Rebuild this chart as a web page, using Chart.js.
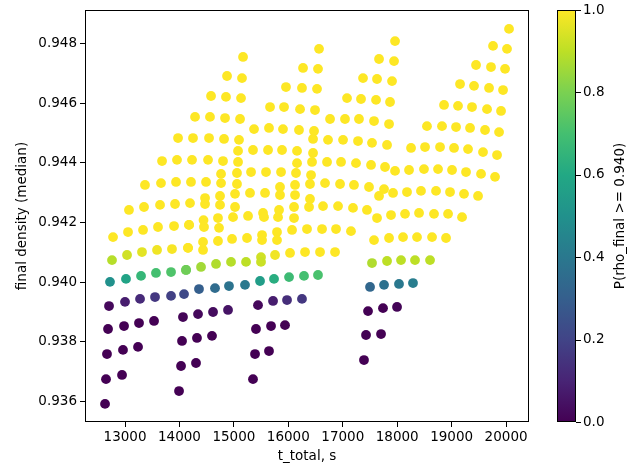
<!DOCTYPE html>
<html>
<head>
<meta charset="utf-8">
<script src="https://cdn.jsdelivr.net/npm/chart.js@4.4.0/dist/chart.umd.min.js"></script>
<style>
  html, body { margin: 0; padding: 0; background: #fff; }
</style>
</head>
<body>
<canvas id="densityChart" width="629" height="467"></canvas>
<script>
// Four sweep blocks, each listed column by column (8 points per column)
const tA = [12633, 12651, 12669, 12688, 12706, 12724, 12761, 12780,
  12945, 12963, 12982, 13000, 13018, 13037, 13055, 13073,
  13239, 13257, 13276, 13294, 13312, 13331, 13349, 13367,
  13533, 13551, 13569, 13588, 13606, 13643, 13661, 13680,
  13845, 13845, 13863, 13900, 13919, 13937, 13955, 13974,
  14121, 14157, 14176, 14194, 14212, 14231, 14249, 14286,
  14433, 14451, 14470, 14488, 14525, 14543, 14561, 14580,
  14727, 14745, 14764, 14800, 14819, 14837, 14855, 14874,
  15021, 15057, 15076, 15094, 15113, 15131, 15149, 15168];
const rhoA = [0.93592, 0.93675, 0.93759, 0.93843, 0.93920, 0.94001, 0.94074, 0.94151,
  0.93689, 0.93773, 0.93853, 0.93934, 0.94011, 0.94091, 0.94168, 0.94242,
  0.93783, 0.93863, 0.93944, 0.94021, 0.94101, 0.94175, 0.94252, 0.94326,
  0.93870, 0.93950, 0.94031, 0.94108, 0.94185, 0.94259, 0.94332, 0.94406,
  0.93954, 0.94034, 0.94111, 0.94188, 0.94262, 0.94336, 0.94410, 0.94483,
  0.94041, 0.94115, 0.94192, 0.94265, 0.94336, 0.94410, 0.94483, 0.94554,
  0.94108, 0.94185, 0.94262, 0.94336, 0.94410, 0.94483, 0.94554, 0.94624,
  0.94182, 0.94259, 0.94332, 0.94406, 0.94480, 0.94550, 0.94621, 0.94691,
  0.94252, 0.94329, 0.94403, 0.94477, 0.94547, 0.94617, 0.94684, 0.94755];
const pA = [0, 0, 0, 0, 0.02, 0.5, 0.89, 1,
  0, 0, 0, 0.08, 0.58, 0.93, 1, 1,
  0, 0, 0.12, 0.66, 0.96, 1, 1, 1,
  0, 0.16, 0.7, 0.98, 1, 1, 1, 1,
  0.19, 0.72, 0.99, 1, 1, 1, 1, 1,
  0.77, 1, 1, 1, 1, 1, 1, 1,
  1, 1, 1, 1, 1, 1, 1, 1,
  1, 1, 1, 1, 1, 1, 1, 1,
  1, 1, 1, 1, 1, 1, 1, 1];

const tB = [13992, 14029, 14047, 14065, 14084, 14121, 14157, 14176,
  14304, 14322, 14341, 14359, 14396, 14433, 14442, 14470,
  14598, 14617, 14653, 14672, 14708, 14708, 14745, 14764,
  14892, 14910, 14947, 14966, 14984, 15021, 15057, 15076,
  15204, 15223, 15241, 15260, 15296, 15315, 15351, 15370,
  15498, 15517, 15553, 15572, 15590, 15627, 15645, 15664,
  15792, 15811, 15847, 15866, 15884, 15902, 15921, 15957,
  16105, 16123, 16141, 16160, 16196, 16215, 16251, 16270,
  16398, 16417, 16454, 16472, 16490, 16527, 16545, 16564];
const rhoB = [0.93635, 0.93719, 0.93803, 0.93883, 0.93960, 0.94041, 0.94115, 0.94192,
  0.93729, 0.93813, 0.93893, 0.93977, 0.94051, 0.94135, 0.94208, 0.94282,
  0.93820, 0.93900, 0.93980, 0.94061, 0.94138, 0.94215, 0.94289, 0.94363,
  0.93907, 0.93987, 0.94068, 0.94145, 0.94218, 0.94296, 0.94366, 0.94440,
  0.93991, 0.94068, 0.94148, 0.94222, 0.94299, 0.94369, 0.94443, 0.94513,
  0.94068, 0.94141, 0.94218, 0.94299, 0.94369, 0.94443, 0.94517, 0.94587,
  0.94141, 0.94218, 0.94292, 0.94369, 0.94443, 0.94513, 0.94587, 0.94654,
  0.94215, 0.94292, 0.94366, 0.94440, 0.94510, 0.94580, 0.94651, 0.94718,
  0.94279, 0.94359, 0.94433, 0.94507, 0.94577, 0.94648, 0.94715, 0.94782];
const pB = [0, 0, 0, 0.01, 0.22, 0.78, 1, 1,
  0, 0, 0.02, 0.3, 0.86, 1, 1, 1,
  0, 0.03, 0.35, 0.88, 1, 1, 1, 1,
  0.05, 0.38, 0.89, 1, 1, 1, 1, 1,
  0.4, 0.9, 1, 1, 1, 1, 1, 1,
  0.92, 1, 1, 1, 1, 1, 1, 1,
  1, 1, 1, 1, 1, 1, 1, 1,
  1, 1, 1, 1, 1, 1, 1, 1,
  1, 1, 1, 1, 1, 1, 1, 1];

const tC = [15351, 15388, 15406, 15443, 15480, 15498, 15517, 15535,
  15645, 15682, 15719, 15737, 15756, 15792, 15829, 15847,
  15939, 15976, 16013, 16031, 16068, 16105, 16123, 16160,
  16251, 16288, 16307, 16343, 16380, 16398, 16435, 16454,
  16545, 16582, 16619, 16637, 16674, 16711, 16729, 16766,
  16858, 16876, 16913, 16950, 16968, 17005, 17041, 17078,
  17151, 17188, 17206, 17243, 17280, 17298, 17335, 17372,
  17445, 17482, 17519, 17537, 17574, 17611, 17629, 17666,
  17758, 17776, 17813, 17850, 17868, 17905, 17942, 17960];
const rhoC = [0.93675, 0.93759, 0.93843, 0.93923, 0.94004, 0.94084, 0.94158, 0.94232,
  0.93769, 0.93853, 0.93937, 0.94011, 0.94091, 0.94168, 0.94242, 0.94319,
  0.93856, 0.93940, 0.94017, 0.94098, 0.94175, 0.94252, 0.94326, 0.94399,
  0.93944, 0.94021, 0.94101, 0.94178, 0.94252, 0.94329, 0.94403, 0.94480,
  0.94024, 0.94101, 0.94178, 0.94255, 0.94332, 0.94403, 0.94477, 0.94547,
  0.94101, 0.94178, 0.94255, 0.94329, 0.94403, 0.94477, 0.94547, 0.94617,
  0.94171, 0.94249, 0.94326, 0.94399, 0.94473, 0.94547, 0.94614, 0.94684,
  0.94242, 0.94319, 0.94393, 0.94467, 0.94540, 0.94611, 0.94681, 0.94748,
  0.94312, 0.94386, 0.94460, 0.94530, 0.94604, 0.94674, 0.94741, 0.94808];
const pC = [0, 0, 0, 0.02, 0.55, 0.93, 1, 1,
  0, 0, 0.08, 0.62, 0.98, 1, 1, 1,
  0, 0.13, 0.68, 1, 1, 1, 1, 1,
  0.16, 0.7, 1, 1, 1, 1, 1, 1,
  0.71, 1, 1, 1, 1, 1, 1, 1,
  1, 1, 1, 1, 1, 1, 1, 1,
  1, 1, 1, 1, 1, 1, 1, 1,
  1, 1, 1, 1, 1, 1, 1, 1,
  1, 1, 1, 1, 1, 1, 1, 1];

const tD = [17390, 17427, 17464, 17501, 17537, 17574, 17629, 17666,
  17703, 17739, 17758, 17813, 17850, 17886, 17923, 17960,
  17997, 18033, 18070, 18107, 18144, 18180, 18217, 18254,
  18290, 18327, 18364, 18401, 18437, 18492, 18511, 18547,
  18603, 18640, 18676, 18713, 18750, 18787, 18823, 18860,
  18897, 18934, 18970, 19007, 19044, 19081, 19117, 19154,
  19191, 19227, 19264, 19301, 19338, 19374, 19411, 19448,
  19485, 19540, 19576, 19613, 19650, 19687, 19723, 19760,
  19797, 19834, 19871, 19907, 19944, 19981, 20017, 20054];
const rhoD = [0.93739, 0.93823, 0.93903, 0.93984, 0.94064, 0.94141, 0.94215, 0.94289,
  0.93826, 0.93913, 0.93991, 0.94071, 0.94148, 0.94225, 0.94299, 0.94373,
  0.93917, 0.93994, 0.94074, 0.94151, 0.94229, 0.94302, 0.94376, 0.94450,
  0.93997, 0.94074, 0.94151, 0.94232, 0.94306, 0.94379, 0.94453, 0.94523,
  0.94074, 0.94151, 0.94229, 0.94306, 0.94379, 0.94453, 0.94523, 0.94594,
  0.94148, 0.94229, 0.94302, 0.94376, 0.94450, 0.94520, 0.94591, 0.94664,
  0.94218, 0.94296, 0.94369, 0.94446, 0.94517, 0.94587, 0.94658, 0.94728,
  0.94289, 0.94363, 0.94436, 0.94510, 0.94580, 0.94651, 0.94721, 0.94792,
  0.94353, 0.94426, 0.94503, 0.94574, 0.94644, 0.94715, 0.94782, 0.94849];
const pD = [0, 0, 0, 0.33, 0.88, 1, 1, 1,
  0, 0, 0.37, 0.9, 1, 1, 1, 1,
  0.01, 0.4, 0.9, 1, 1, 1, 1, 1,
  0.42, 0.9, 1, 1, 1, 1, 1, 1,
  0.9, 1, 1, 1, 1, 1, 1, 1,
  1, 1, 1, 1, 1, 1, 1, 1,
  1, 1, 1, 1, 1, 1, 1, 1,
  1, 1, 1, 1, 1, 1, 1, 1,
  1, 1, 1, 1, 1, 1, 1, 1];

// tick labels
const xTicks = [13000, 14000, 15000, 16000, 17000, 18000, 19000, 20000];
const yTicks = [0.936, 0.938, 0.940, 0.942, 0.944, 0.946, 0.948];
const cTicks = [0, 0.2, 0.4, 0.6, 0.8, 1.0];

// viridis colormap, sampled every 0.1
const viridisStops = ['#440154', '#482475', '#414487', '#355f8d', '#2a788e', '#21918c',
  '#22a884', '#44bf70', '#7ad151', '#bddf26', '#fde725'];

function hexToRgb(h) {
  return [parseInt(h.slice(1, 3), 16), parseInt(h.slice(3, 5), 16), parseInt(h.slice(5, 7), 16)];
}

function viridis(v) {
  const n = viridisStops.length - 1;
  const f = Math.min(Math.max(v, 0), 1) * n;
  const i = Math.min(Math.floor(f), n - 1);
  const a = hexToRgb(viridisStops[i]);
  const b = hexToRgb(viridisStops[i + 1]);
  const w = f - i;
  const c = a.map((x, k) => Math.round(x + (b[k] - x) * w));
  return `rgb(${c[0]}, ${c[1]}, ${c[2]})`;
}

function makeDataset(ts, rhos, ps) {
  return {
    data: ts.map((t, i) => ({ x: t, y: rhos[i] })),
    backgroundColor: ps.map(viridis),
    borderWidth: 0,
    pointRadius: 4.9,
    pointHoverRadius: 4.9
  };
}

// vertical scales should not push the plot area around
function noPadding(s) {
  s.paddingTop = 0;
  s.paddingBottom = 0;
}

// draws the axes frame and the colorbar next to the plot
const frameAndColorbar = {
  id: 'frameAndColorbar',
  afterDraw(chart) {
    const { ctx, chartArea } = chart;
    const c = chart.scales.c;
    ctx.save();
    ctx.strokeStyle = '#000';
    ctx.lineWidth = 1;
    ctx.strokeRect(Math.round(chartArea.left) + 0.5, Math.round(chartArea.top) + 0.5,
      Math.round(chartArea.width) - 1, Math.round(chartArea.height) - 1);

    const barLeft = 557, barRight = 576;
    const grad = ctx.createLinearGradient(0, c.bottom, 0, c.top);
    viridisStops.forEach((col, i) => grad.addColorStop(i / (viridisStops.length - 1), col));
    ctx.fillStyle = grad;
    ctx.fillRect(barLeft, c.top, barRight - barLeft, c.bottom - c.top);
    ctx.strokeRect(barLeft + 0.5, Math.round(c.top) + 0.5, barRight - barLeft - 1, Math.round(c.bottom - c.top) - 1);

    cTicks.forEach(v => {
      const y = Math.round(c.getPixelForValue(v)) + 0.5;
      ctx.beginPath();
      ctx.moveTo(barRight, y);
      ctx.lineTo(barRight + 5, y);
      ctx.stroke();
    });

    ctx.translate(620, (c.top + c.bottom) / 2);
    ctx.rotate(-Math.PI / 2);
    ctx.fillStyle = '#000';
    ctx.font = '13.5px "DejaVu Sans"';
    ctx.textAlign = 'center';
    ctx.textBaseline = 'middle';
    ctx.fillText('P(rho_final >= 0.940)', 0, 0);
    ctx.restore();
  }
};

Chart.defaults.font.family = '"DejaVu Sans"';
Chart.defaults.font.size = 13.5;
Chart.defaults.color = '#000';

const tickGrid = { drawOnChartArea: false, drawTicks: true, tickLength: 5, tickColor: '#000', lineWidth: 1 };

new Chart(document.getElementById('densityChart'), {
  type: 'scatter',
  data: {
    datasets: [
      makeDataset(tB, rhoB, pB),
      makeDataset(tA, rhoA, pA),
      makeDataset(tC, rhoC, pC),
      makeDataset(tD, rhoD, pD)
    ]
  },
  options: {
    responsive: false,
    animation: false,
    events: [],
    layout: { padding: { top: 10, left: 0, right: 0, bottom: 0 } },
    plugins: { legend: { display: false }, tooltip: { enabled: false } },
    scales: {
      x: {
        type: 'linear',
        position: 'bottom',
        min: 12265,
        max: 20421,
        afterBuildTicks: s => { s.ticks = xTicks.map(v => ({ value: v })); },
        afterFit: s => { s.height = 45; s.paddingLeft = 0; s.paddingRight = 0; },
        ticks: { autoSkip: false, maxRotation: 0, padding: 2, callback: v => String(v) },
        grid: tickGrid,
        border: { display: false },
        title: { display: true, text: 't_total, s', padding: { top: 0, bottom: 2 } }
      },
      y: {
        type: 'linear',
        position: 'left',
        min: 0.935313,
        max: 0.949123,
        afterBuildTicks: s => { s.ticks = yTicks.map(v => ({ value: v })); },
        afterFit: s => { s.width = 85; noPadding(s); },
        ticks: { autoSkip: false, padding: 3, callback: v => v.toFixed(3) },
        grid: tickGrid,
        border: { display: false },
        title: { display: true, text: 'final density (median)', padding: { top: 14, bottom: 0 } }
      },
      c: {
        type: 'linear',
        position: 'right',
        min: 0,
        max: 1,
        afterBuildTicks: s => { s.ticks = cTicks.map(v => ({ value: v })); },
        afterFit: s => { s.width = 100; noPadding(s); },
        ticks: { autoSkip: false, padding: 54, callback: v => v.toFixed(1) },
        grid: { display: false, drawTicks: false },
        border: { display: false }
      }
    }
  },
  plugins: [frameAndColorbar]
});
</script>
</body>
</html>
